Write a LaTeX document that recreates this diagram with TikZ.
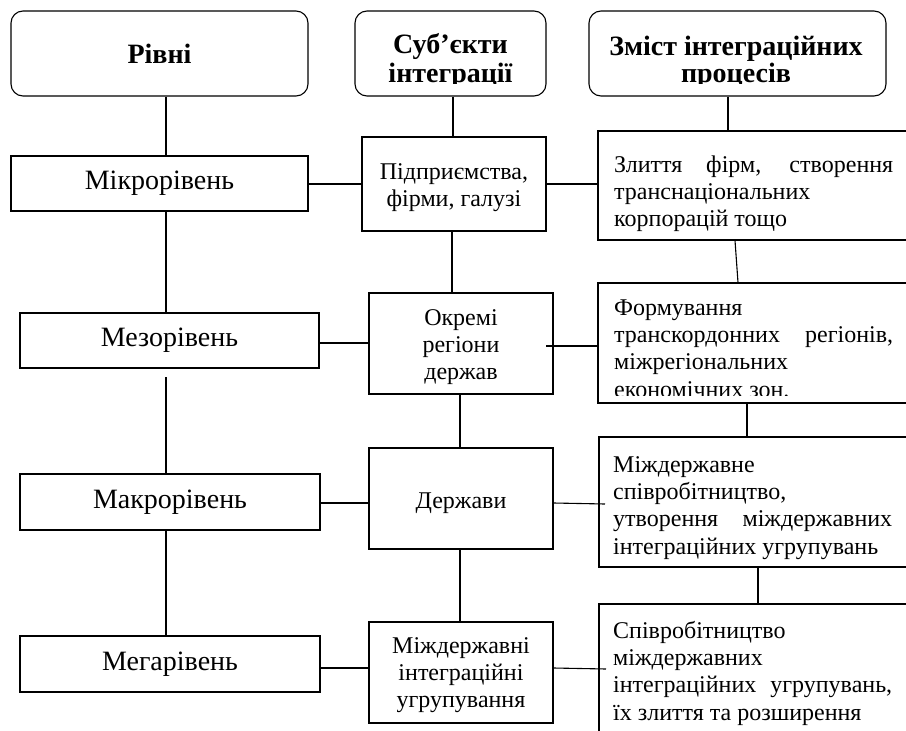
\documentclass[tikz,border=0pt]{standalone}
\usepackage{fontspec}
\setmainfont{Liberation Serif}
\newcommand\fhead{\fontsize{28}{29}\selectfont\bfseries}
\newcommand\fheadb{\fontsize{28}{27}\selectfont\bfseries}
\newcommand\fleft{\fontsize{28}{30}\selectfont}
\newcommand\fbody{\fontsize{24}{27.4}\selectfont}
\tikzset{
  conn/.style={line width=1.1pt, draw=black},
  hbox/.style={draw=black, line width=1.1pt, rounded corners=12pt, inner sep=0pt},
  rbox/.style={draw=black, line width=1.1pt, inner sep=0pt},
  lbox/.style={rbox, font=\fleft},
  mbox/.style={rbox, minimum width=184pt},
  txt/.style={anchor=base west, inner sep=0pt},
  ctxt/.style={anchor=base, inner sep=0pt},
}
\begin{document}
\begin{tikzpicture}[x=1pt,y=-1pt]
\useasboundingbox (0,0) rectangle (906,731);
% headers
\node[hbox, minimum width=297pt, minimum height=85pt, font=\fhead] (hlev) at (159.5,53.5) {Рівні};
\node[hbox, minimum width=191pt, minimum height=85pt] (hsub) at (450.5,53.5) {};
\node[hbox, minimum width=297pt, minimum height=85pt] (hzm) at (737.5,53.5) {};
\begin{scope}
\clip (355,11) rectangle (546,83);
\node[ctxt] (hsubtxt) at (450.5,53) {\parbox[t]{191pt}{\centering\fhead Суб’єкти\\інтеграції}};
\end{scope}
\begin{scope}
\clip (589,11) rectangle (886,83);
\node[ctxt] (hzmtxt) at (736,55) {\parbox[t]{297pt}{\centering\fheadb Зміст інтеграційних\\процесів}};
\end{scope}
% left column
\node[lbox, minimum width=297pt, minimum height=55pt] (micro) at (159.5,183.5) {Мікрорівень};
\node[lbox, minimum width=299pt, minimum height=55pt] (mezo) at (169.5,340.5) {Мезорівень};
\node[lbox, minimum width=300pt, minimum height=56pt] (makro) at (170,502) {Макрорівень};
\node[lbox, minimum width=300pt, minimum height=56pt] (mega) at (170,664) {Мегарівень};
% middle column
\node[mbox, minimum height=94pt] (pidpr) at (454,184) {};
\node[mbox, minimum height=101pt] (okremi) at (461,343.5) {};
\node[mbox, minimum height=101pt] (derzh) at (461,498.5) {};
\node[mbox, minimum height=101pt] (mizhdi) at (461,672.5) {};
\node[ctxt] (pidprtxt) at (454,179) {\parbox[t]{184pt}{\centering\fbody Підприємства,\\фірми, галузі}};
\node[ctxt] (okremitxt) at (461,325) {\parbox[t]{184pt}{\centering\fbody Окремі\\регіони\\держав}};
\node[ctxt] (derzhtxt) at (461,508) {\parbox[t]{184pt}{\centering\fbody Держави}};
\node[ctxt] (mizhditxt) at (461,653) {\parbox[t]{184pt}{\centering\fbody Міждержавні\\інтеграційні\\угрупування}};
% right column
\node[rbox, minimum width=322pt, minimum height=109pt] (zlit) at (759,185.5) {};
\node[rbox, minimum width=322pt, minimum height=120pt] (form) at (759,343) {};
\node[rbox, minimum width=321pt, minimum height=130pt] (mizhdne) at (759.5,502) {};
\node[rbox, minimum width=321pt, minimum height=141pt] (spivr) at (759.5,674.5) {};
\node[txt] (zlittxt) at (614,172) {\parbox[t]{279pt}{\fbody\hyphenpenalty=10000 Злиття фірм, створення\linebreak транснаціональних\newline корпорацій тощо}};
\begin{scope}
\clip (598,283) rectangle (920,395);
\node[txt] (formtxt) at (614,315) {\parbox[t]{279pt}{\fbody\hyphenpenalty=10000 Формування\newline транскордонних регіонів,\linebreak міжрегіональних\newline економічних зон.}};
\end{scope}
\node[txt] (mizhdnetxt) at (613,472) {\parbox[t]{279pt}{\fbody\hyphenpenalty=10000 Міждержавне\newline співробітництво,\newline утворення міждержавних\linebreak інтеграційних угрупувань}};
\node[txt] (spivrtxt) at (613,638) {\parbox[t]{279pt}{\fbody\hyphenpenalty=10000 Співробітництво\newline міждержавних\newline інтеграційних угрупувань,\linebreak їх злиття та розширення}};
% helper coordinates
\coordinate (lx) at (166,0);
\coordinate (mzg) at (166,377);
\coordinate (mx1) at (453,0);
\coordinate (mx2) at (452,0);
\coordinate (mx3) at (460,0);
\coordinate (rx1) at (728,0);
\coordinate (rx2a) at (735,0);
\coordinate (rx2b) at (738,0);
\coordinate (rx3) at (747,0);
\coordinate (rx4) at (758,0);
\coordinate (y1) at (0,184);
\coordinate (y2) at (0,343);
\coordinate (y2b) at (0,346);
\coordinate (okst) at (546,346);
\coordinate (y3) at (0,503);
\coordinate (d3e) at (605,504);
\coordinate (y4) at (0,668);
\coordinate (d4e) at (606,669);
% vertical connectors
\draw[conn] (hlev.south -| lx) -- (micro.north -| lx);
\draw[conn] (micro.south -| lx) -- (mezo.north -| lx);
\draw[conn] (mzg) -- (makro.north -| lx);
\draw[conn] (makro.south -| lx) -- (mega.north -| lx);
\draw[conn] (hsub.south -| mx1) -- (pidpr.north -| mx1);
\draw[conn] (pidpr.south -| mx2) -- (okremi.north -| mx2);
\draw[conn] (okremi.south -| mx3) -- (derzh.north -| mx3);
\draw[conn] (derzh.south -| mx3) -- (mizhdi.north -| mx3);
\draw[conn] (hzm.south -| rx1) -- (zlit.north -| rx1);
\draw[conn] (zlit.south -| rx2a) -- (form.north -| rx2b);
\draw[conn] (form.south -| rx3) -- (mizhdne.north -| rx3);
\draw[conn] (mizhdne.south -| rx4) -- (spivr.north -| rx4);
% horizontal connectors
\draw[conn] (micro.east |- y1) -- (pidpr.west |- y1);
\draw[conn] (pidpr.east |- y1) -- (zlit.west |- y1);
\draw[conn] (mezo.east |- y2) -- (okremi.west |- y2);
\draw[conn] (okst) -- (form.west |- y2b);
\draw[conn] (makro.east |- y3) -- (derzh.west |- y3);
\draw[conn] (derzh.east |- y3) -- (d3e);
\draw[conn] (mega.east |- y4) -- (mizhdi.west |- y4);
\draw[conn] (mizhdi.east |- y4) -- (d4e);
\end{tikzpicture}
\end{document}
